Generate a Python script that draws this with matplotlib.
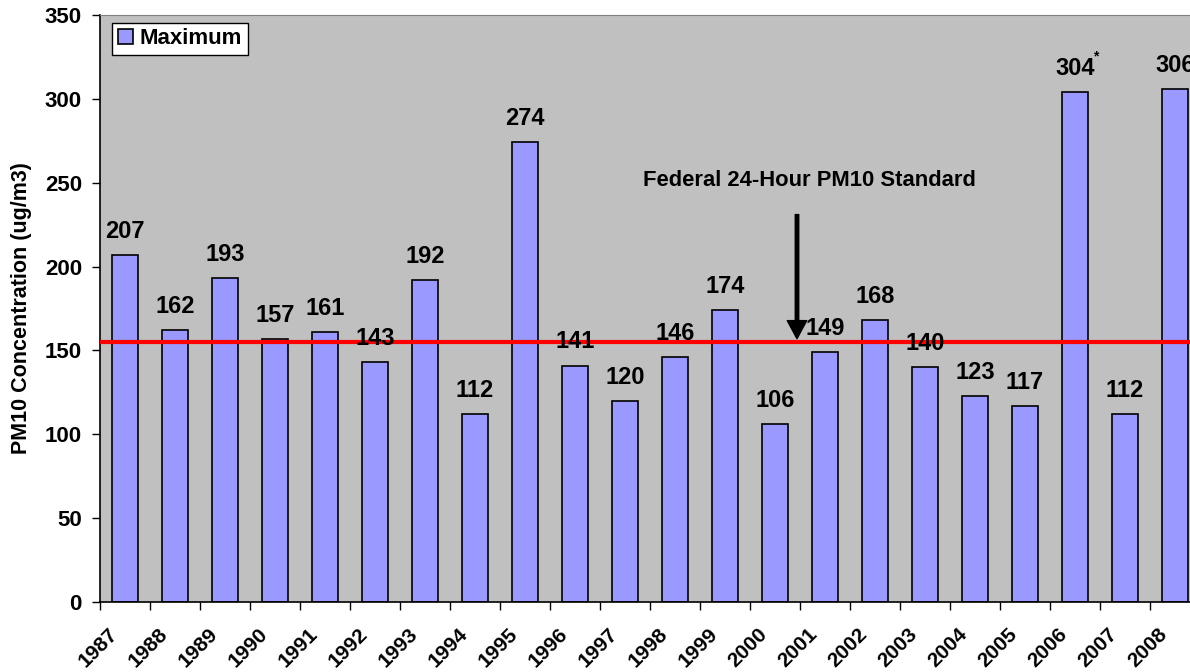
import matplotlib.pyplot as plt
from matplotlib.transforms import ScaledTranslation
import numpy as np

plt.rcParams['font.family'] = ['Liberation Sans', 'DejaVu Sans']
plt.rcParams['font.weight'] = 'bold'

years = [str(y) for y in range(1987, 2009)]
maximum = [207, 162, 193, 157, 161, 143, 192, 112, 274, 141, 120,
           146, 174, 106, 149, 168, 140, 123, 117, 304, 112, 306]
standard = 155
yticks = [0, 50, 100, 150, 200, 250, 300, 350]

fig = plt.figure(figsize=(11.9, 6.72), dpi=100)
ax = fig.add_axes([100 / 1190, 70 / 672, 1100 / 1190, 587 / 672])
ax.set_facecolor('#C0C0C0')

x = np.arange(len(years))
ax.bar(x, maximum, width=0.51, color='#9999FF', edgecolor='black',
       linewidth=1.2, label='Maximum', zorder=2)

for xi, v in zip(x, maximum):
    ax.annotate(str(v), xy=(xi, v), xytext=(0, 17), textcoords='offset points',
                ha='center', va='center', fontsize=17, fontweight='bold', zorder=4,
                annotation_clip=False)
ax.annotate('*', xy=(19, 304), xytext=(15, 26), textcoords='offset points',
            ha='center', va='center', fontsize=10, fontweight='bold')

ax.axhline(standard, color='#FF0000', linewidth=3, zorder=3)

# arrow + caption for the federal standard
ax.annotate('', xy=(13.44, 157), xytext=(13.44, 231),
            arrowprops=dict(facecolor='black', edgecolor='black', width=2.5,
                            headwidth=14, headlength=13, shrink=0), zorder=5)
ax.text(13.69, 251.5, 'Federal 24-Hour PM10 Standard', ha='center', va='center',
        fontsize=15.8, fontweight='bold')

ax.set_xlim(-0.5, len(years) - 0.5)
ax.set_ylim(0, 350)
ax.set_yticks(yticks)
ax.tick_params(axis='y', length=6, width=1, pad=7, labelsize=16)
ax.set_ylabel('PM10 Concentration (ug/m3)', fontsize=15.5, fontweight='bold', labelpad=9)

# tick marks on category boundaries, labels on category centres
ax.set_xticks(np.arange(len(years) + 1) - 0.5)
ax.set_xticklabels([])
ax.tick_params(axis='x', which='major', length=6, width=1)
ax.set_xticks(x, minor=True)
ax.set_xticklabels(years, minor=True)
ax.tick_params(axis='x', which='minor', length=0, pad=0, labelsize=15)
offset = ScaledTranslation(-12.5 / 72, -16 / 72, fig.dpi_scale_trans)
for lab in ax.get_xticklabels(minor=True):
    lab.set_rotation(45)
    lab.set_ha('right')
    lab.set_va('top')
    lab.set_rotation_mode('anchor')
    lab.set_transform(lab.get_transform() + offset)

for side in ['left', 'bottom']:
    ax.spines[side].set_color('black')
    ax.spines[side].set_linewidth(1.2)
ax.spines['top'].set_color('#808080')
ax.spines['right'].set_color('#808080')

leg = ax.legend(loc='upper left', bbox_to_anchor=(0.011, 0.987), fontsize=16,
                frameon=True, fancybox=False, edgecolor='black', framealpha=1,
                handlelength=0.7, handleheight=0.7, handletextpad=0.3,
                borderpad=0.25, borderaxespad=0)
leg.get_frame().set_linewidth(1)

fig.savefig('out.png', dpi=100)
